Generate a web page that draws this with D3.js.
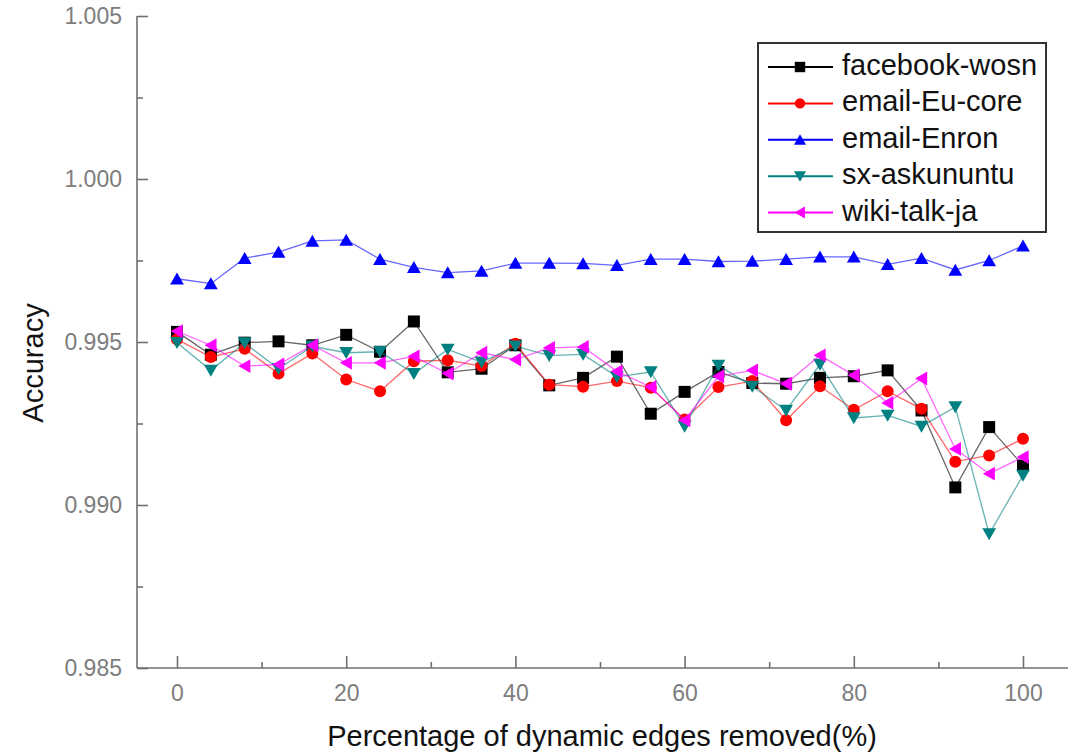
<!DOCTYPE html>
<html>
<head>
<meta charset="utf-8">
<script src="https://cdn.jsdelivr.net/npm/d3@7"></script>
<style>
  html, body { margin: 0; padding: 0; background: #fff; }
  svg { display: block; font-family: "Liberation Sans", Arial, sans-serif; }
</style>
</head>
<body>
<svg id="chart" width="1079" height="755"></svg>
<script>
// Percentage of dynamic edges removed (x values)
const removed = [0, 4, 8, 12, 16, 20, 24, 28, 32, 36, 40, 44, 48, 52, 56, 60, 64, 68, 72, 76, 80, 84, 88, 92, 96, 100];

// Accuracy per dataset
const facebookWosn = [0.99531, 0.99461, 0.99498, 0.99502, 0.99490, 0.99522, 0.99470, 0.99563, 0.99407, 0.99418, 0.99490, 0.99367, 0.99390, 0.99455, 0.99280, 0.99347, 0.99408, 0.99374, 0.99372, 0.99390, 0.99395, 0.99413, 0.99290, 0.99054, 0.99239, 0.99121];
const emailEuCore = [0.99508, 0.99454, 0.99479, 0.99403, 0.99465, 0.99385, 0.99349, 0.99441, 0.99444, 0.99426, 0.99495, 0.99369, 0.99363, 0.99380, 0.99360, 0.99262, 0.99362, 0.99380, 0.99260, 0.99364, 0.99292, 0.99349, 0.99295, 0.99133, 0.99152, 0.99203];
const emailEnron = [0.99694, 0.99679, 0.99757, 0.99776, 0.99810, 0.99813, 0.99754, 0.99729, 0.99713, 0.99718, 0.99742, 0.99742, 0.99741, 0.99735, 0.99754, 0.99754, 0.99747, 0.99748, 0.99754, 0.99761, 0.99761, 0.99738, 0.99757, 0.99721, 0.99750, 0.99795];
const sxAskubuntu = [0.99498, 0.99413, 0.99497, 0.99418, 0.99487, 0.99467, 0.99470, 0.99403, 0.99477, 0.99438, 0.99487, 0.99458, 0.99462, 0.99393, 0.99408, 0.99241, 0.99428, 0.99364, 0.99290, 0.99431, 0.99267, 0.99275, 0.99241, 0.99301, 0.98911, 0.99091];
const wikiTalkJa = [0.99533, 0.99490, 0.99426, 0.99431, 0.99490, 0.99436, 0.99436, 0.99456, 0.99403, 0.99467, 0.99446, 0.99482, 0.99485, 0.99410, 0.99362, 0.99260, 0.99395, 0.99413, 0.99372, 0.99459, 0.99398, 0.99313, 0.99388, 0.99172, 0.99096, 0.99147];

const seriesNames = ["facebook-wosn", "email-Eu-core", "email-Enron", "sx-askununtu", "wiki-talk-ja"];
const seriesColors = ["#000000", "#ff0000", "#0000ff", "#008080", "#ff00ff"];
const seriesShapes = ["square", "circle", "up", "down", "left"];
const seriesValues = [facebookWosn, emailEuCore, emailEnron, sxAskubuntu, wikiTalkJa];

const xTicks = [0, 20, 40, 60, 80, 100];
const xMinor = [10, 30, 50, 70, 90];
const yTicks = [0.985, 0.990, 0.995, 1.000, 1.005];
const yMinor = [0.9875, 0.9925, 0.9975, 1.0025];

const svg = d3.select("#chart");

const x = d3.scaleLinear().domain([0, 100]).range([177, 1023]);
const y = d3.scaleLinear().domain([0.985, 1.005]).range([668, 16]);

const axisColor = "#707070";
const labelColor = "#7d7d7d";

// Marker path for a given shape and half-size
function markerPath(shape, r) {
  const p = d3.path();
  if (shape === "square") {
    p.rect(-r, -r, 2 * r, 2 * r);
  } else if (shape === "circle") {
    p.arc(0, 0, r, 0, 2 * Math.PI);
  } else if (shape === "up") {
    p.moveTo(0, -r * 1.05); p.lineTo(r * 1.15, r * 0.95); p.lineTo(-r * 1.15, r * 0.95); p.closePath();
  } else if (shape === "down") {
    p.moveTo(0, r * 1.05); p.lineTo(r * 1.15, -r * 0.95); p.lineTo(-r * 1.15, -r * 0.95); p.closePath();
  } else if (shape === "left") {
    p.moveTo(-r * 1.05, 0); p.lineTo(r * 0.95, -r * 1.15); p.lineTo(r * 0.95, r * 1.15); p.closePath();
  }
  return p.toString();
}

// Axes: domain lines
svg.append("line")
  .attr("x1", 137).attr("x2", 137).attr("y1", y(1.005)).attr("y2", y(0.985))
  .attr("stroke", axisColor).attr("stroke-width", 1.6);
svg.append("line")
  .attr("x1", 137).attr("x2", 1068).attr("y1", y(0.985)).attr("y2", y(0.985))
  .attr("stroke", axisColor).attr("stroke-width", 1.6);

// Y axis (ticks pointing inward)
const gy = svg.append("g").attr("transform", "translate(137,0)")
  .call(d3.axisLeft(y).tickValues(yTicks).tickFormat(d3.format(".3f")).tickSizeInner(-11).tickSizeOuter(0).tickPadding(15));
gy.select(".domain").remove();
gy.selectAll(".tick line").attr("stroke", axisColor).attr("stroke-width", 1.6);
gy.selectAll(".tick text").attr("fill", labelColor).style("font-size", "23px").attr("font-family", "Liberation Sans, Arial, sans-serif");

const gyMinor = svg.append("g").attr("transform", "translate(137,0)")
  .call(d3.axisLeft(y).tickValues(yMinor).tickFormat("").tickSizeInner(-6).tickSizeOuter(0));
gyMinor.select(".domain").remove();
gyMinor.selectAll(".tick line").attr("stroke", axisColor).attr("stroke-width", 1.6);

// X axis (ticks pointing inward)
const gx = svg.append("g").attr("transform", `translate(0,${y(0.985)})`)
  .call(d3.axisBottom(x).tickValues(xTicks).tickFormat(d3.format("d")).tickSizeInner(-12).tickSizeOuter(0).tickPadding(17));
gx.select(".domain").remove();
gx.selectAll(".tick line").attr("stroke", axisColor).attr("stroke-width", 1.6);
gx.selectAll(".tick text").attr("fill", labelColor).style("font-size", "23px").attr("font-family", "Liberation Sans, Arial, sans-serif");

const gxMinor = svg.append("g").attr("transform", `translate(0,${y(0.985)})`)
  .call(d3.axisBottom(x).tickValues(xMinor).tickFormat("").tickSizeInner(-6).tickSizeOuter(0));
gxMinor.select(".domain").remove();
gxMinor.selectAll(".tick line").attr("stroke", axisColor).attr("stroke-width", 1.6);

// Axis titles
svg.append("text")
  .attr("x", 602).attr("y", 746)
  .attr("text-anchor", "middle")
  .attr("fill", "#111")
  .style("font-size", "29px")
  .text("Percentage of dynamic edges removed(%)");

svg.append("text")
  .attr("transform", "translate(43,363) rotate(-90)")
  .attr("text-anchor", "middle")
  .attr("fill", "#111")
  .style("font-size", "29px")
  .text("Accuracy");

// Series: line then markers, drawn in legend order
const line = d3.line().x((d, i) => x(removed[i])).y(d => y(d));

seriesValues.forEach((vals, s) => {
  const g = svg.append("g").attr("class", "series");
  g.append("path")
    .attr("d", line(vals))
    .attr("fill", "none")
    .attr("stroke", seriesColors[s])
    .attr("stroke-opacity", 0.6)
    .attr("stroke-width", 1.3);
  g.selectAll("path.mk")
    .data(vals)
    .join("path")
    .attr("class", "mk")
    .attr("transform", (d, i) => `translate(${x(removed[i])},${y(d)})`)
    .attr("d", markerPath(seriesShapes[s], 6))
    .attr("fill", seriesColors[s]);
});

// Legend
const legend = svg.append("g");
legend.append("rect")
  .attr("x", 758).attr("y", 43).attr("width", 288).attr("height", 189)
  .attr("fill", "#fff").attr("stroke", "#333").attr("stroke-width", 2);

seriesNames.forEach((name, s) => {
  const cy = 67 + s * 36.4;
  legend.append("line")
    .attr("x1", 768).attr("x2", 833).attr("y1", cy).attr("y2", cy)
    .attr("stroke", seriesColors[s]).attr("stroke-width", 2);
  legend.append("path")
    .attr("transform", `translate(800,${cy})`)
    .attr("d", markerPath(seriesShapes[s], 5.2))
    .attr("fill", seriesColors[s]);
  legend.append("text")
    .attr("x", 842).attr("y", cy + 8)
    .attr("fill", "#111")
    .style("font-size", "29px")
    .text(name);
});
</script>
</body>
</html>
